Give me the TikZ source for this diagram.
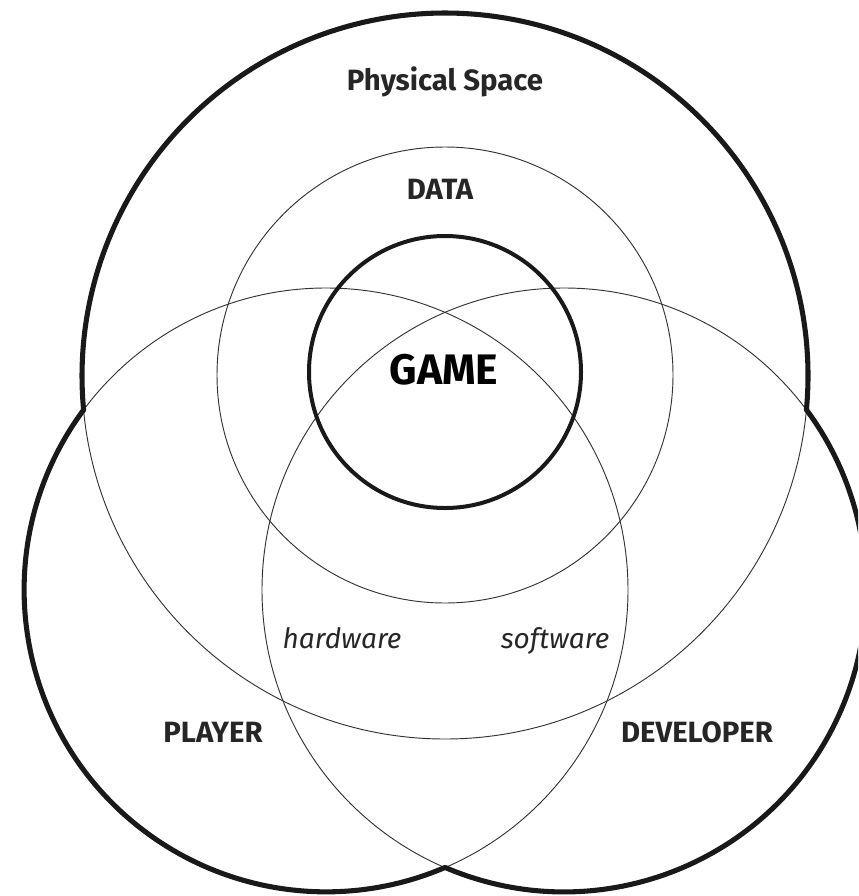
\documentclass[tikz,border=0pt]{standalone}
\usepackage{fontspec}
\setmainfont{Fira Sans}
\usepackage{tikz}
\usetikzlibrary{positioning}

\begin{document}
\begin{tikzpicture}[x=0.75pt, y=-0.75pt,
  thinring/.style={draw=black!80, line width=0.7pt},
  thickring/.style={draw=black!90, line width=3.8pt, line join=round},
  label/.style={font=\fontsize{22}{26}\selectfont\bfseries, text=black!85, anchor=base, inner sep=0pt},
  tech/.style={font=\fontsize{21}{25}\selectfont\itshape, text=black!85, anchor=base, inner sep=0pt}]

\clip (0,0) rectangle (858,896);

% inner arcs of the three big circles and the data ring
\draw[thinring] (445,376) circle (363);
\draw[thinring] (326,590) circle (302);
\draw[thinring] (564,590) circle (302);
\draw[thinring] (445,375) circle (228);

% outline of the union
\draw[thickring] (445,376) ++(5.36:363)
  arc[start angle=5.36, end angle=-185.36, radius=363]
  arc[start angle=216.58, end angle=66.8, radius=302]
  arc[start angle=113.2, end angle=-36.58, radius=302] -- cycle;

\node[circle, draw=black!90, line width=3pt, minimum size=204pt, inner sep=0pt] (game) at (445,372) {};
\node[font=\fontsize{32}{37}\selectfont\bfseries, anchor=base, inner sep=0pt] (gamelabel) at (444,384) {GAME};

\node[label] (space) at (445,90) {Physical Space};
\node[label] (data) at (440,199) {DATA};
\node[label] (player) at (213,742) {PLAYER};
\node[label] (developer) at (697,742) {DEVELOPER};
\node[tech] (hardware) at (342,648) {hardware};
\node[tech] (software) at (555,648) {software};
\end{tikzpicture}
\end{document}
